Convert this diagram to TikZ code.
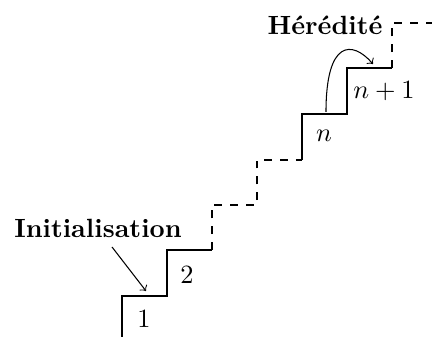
\documentclass[tikz,border=0pt]{standalone}
\begin{document}
\begin{tikzpicture}[x=0.013333cm,y=-0.013333cm,
  stair/.style={line width=0.4pt},
  gap/.style={line width=0.4pt,dashed},
  lbl/.style={inner sep=0pt}]
\useasboundingbox (0,0) rectangle (432,337);
% solid steps
\draw[stair] (122,337) -- (122,296) -- (167,296) -- (167,250) -- (212,250);
\draw[gap] (212,250) -- (212,205) -- (257,205) -- (257,160) -- (302,160);
\draw[stair] (302,160) -- (302,114) -- (347,114) -- (347,68) -- (392,68);
\draw[gap] (392,68) -- (392,23) -- (432,23);
% step numbers
\node[lbl] (s1) at (144,319) {$1$};
\node[lbl] (s2) at (187,275) {$2$};
\node[lbl] (sn) at (324,136) {$n$};
\node[lbl] (sn1) at (384,91) {$n+1$};
% headings
\node[lbl] (init) at (98,228) {\textbf{Initialisation}};
\node[lbl] (hered) at (325,25) {\textbf{Hérédité}};
% arrows
\coordinate (a0) at (112,247);
\coordinate (a1) at (146,291);
\draw[->] (a0) -- (a1);
\coordinate (h0) at (326,112);
\coordinate (h1) at (373,64);
\draw[->] (h0) .. controls (326,40) and (352,40) .. (h1);
\end{tikzpicture}
\end{document}
